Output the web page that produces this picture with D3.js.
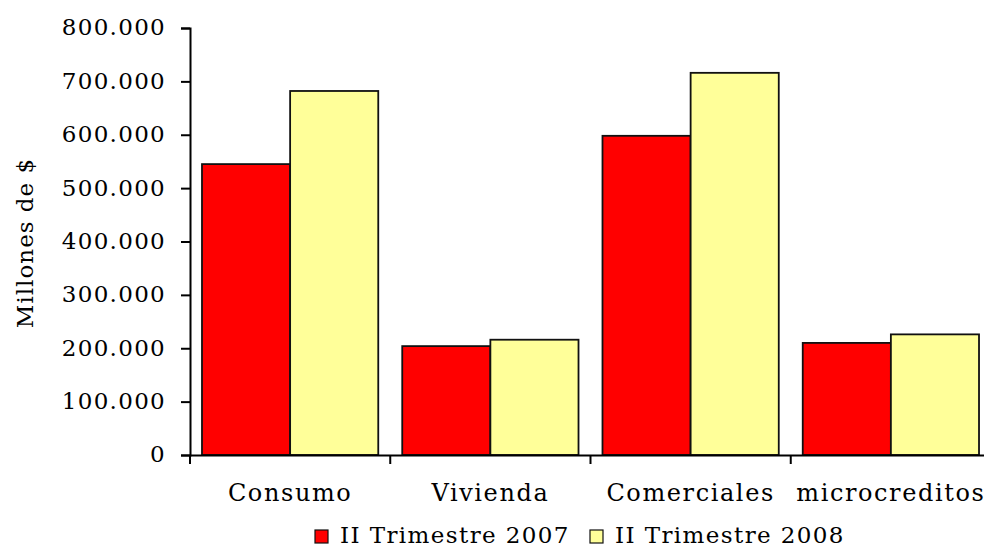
<!DOCTYPE html>
<html>
<head>
<meta charset="utf-8">
<script src="https://cdn.jsdelivr.net/npm/d3@7"></script>
<style>
  html, body { margin: 0; padding: 0; background: #fff; }
  svg { display: block; }
  text { font-family: "DejaVu Serif", serif; fill: #000; }
</style>
</head>
<body>
<svg id="chart" width="984" height="547"></svg>
<script>
const categories = ["Consumo", "Vivienda", "Comerciales", "microcreditos"];
const seriesNames = ["II Trimestre 2007", "II Trimestre 2008"];
const values2007 = [545000, 204000, 598000, 210000];
const values2008 = [682000, 216000, 716000, 226000];
const yTicks = [0, 100000, 200000, 300000, 400000, 500000, 600000, 700000, 800000];
const colors = ["#FF0000", "#FFFF99"];
const yTitle = "Millones de $";

const svg = d3.select("#chart");
const margin = { left: 190, right: 991, top: 28, bottom: 455 };

const x0 = d3.scaleBand().domain(categories).range([margin.left, margin.right]).padding(0);
const x1 = d3.scaleBand().domain(seriesNames).range([0, x0.bandwidth()]).paddingInner(0).paddingOuter(0.136);
const y = d3.scaleLinear().domain([0, 800000]).range([margin.bottom, margin.top]);

const loc = d3.formatLocale({ decimal: ",", thousands: ".", grouping: [3], currency: ["$", ""] });
const fmt = loc.format(",d");

const data = categories.map((c, i) => ({ cat: c, vals: [values2007[i], values2008[i]] }));

// bars
const g = svg.append("g");
data.forEach(d => {
  d.vals.forEach((v, j) => {
    g.append("rect")
      .attr("x", x0(d.cat) + x1(seriesNames[j]))
      .attr("y", y(v))
      .attr("width", x1.bandwidth())
      .attr("height", y(0) - y(v))
      .attr("fill", colors[j])
      .attr("stroke", "#111")
      .attr("stroke-width", 1.8);
  });
});

// y axis
const yAxis = svg.append("g")
  .attr("transform", `translate(${margin.left},0)`)
  .call(d3.axisLeft(y).tickValues(yTicks).tickFormat(fmt).tickSize(9).tickPadding(15));
yAxis.select(".domain").attr("stroke", "#000").attr("stroke-width", 2);
yAxis.selectAll(".tick line").attr("stroke", "#000").attr("stroke-width", 2);
yAxis.selectAll(".tick text")
  .attr("font-family", "DejaVu Serif")
  .attr("font-size", 23)
  .attr("letter-spacing", 1.3)
  .attr("dy", "0.3em")
  .attr("fill", "#000");

// x axis
const xAxis = svg.append("g")
  .attr("transform", `translate(0,${margin.bottom})`)
  .call(d3.axisBottom(x0).tickSize(0).tickPadding(0).tickFormat(""));
xAxis.select(".domain").attr("stroke", "#000").attr("stroke-width", 2);
const boundaries = categories.map(c => x0(c));
xAxis.selectAll(".bline").data(boundaries).enter().append("line")
  .attr("x1", d => d).attr("x2", d => d).attr("y1", 0).attr("y2", 9)
  .attr("stroke", "#000").attr("stroke-width", 2);
xAxis.selectAll(".clabel").data(categories).enter().append("text")
  .attr("x", d => x0(d) + x0.bandwidth() / 2)
  .attr("y", 46)
  .attr("text-anchor", "middle")
  .attr("font-size", 24)
  .attr("letter-spacing", 1.6)
  .text(d => d);

// y title
svg.append("text")
  .attr("transform", "translate(33,243) rotate(-90)")
  .attr("text-anchor", "middle")
  .attr("font-size", 23)
  .attr("letter-spacing", 1.0)
  .text(yTitle);

// legend
const legendX = [315, 590];
const legend = svg.append("g");
seriesNames.forEach((s, j) => {
  legend.append("rect")
    .attr("x", legendX[j]).attr("y", 530)
    .attr("width", 13).attr("height", 13)
    .attr("fill", colors[j]).attr("stroke", "#111").attr("stroke-width", 1.2);
  legend.append("text")
    .attr("x", legendX[j] + 25).attr("y", 543)
    .attr("font-size", 23)
    .attr("letter-spacing", 1.4)
    .text(s);
});
</script>
</body>
</html>
